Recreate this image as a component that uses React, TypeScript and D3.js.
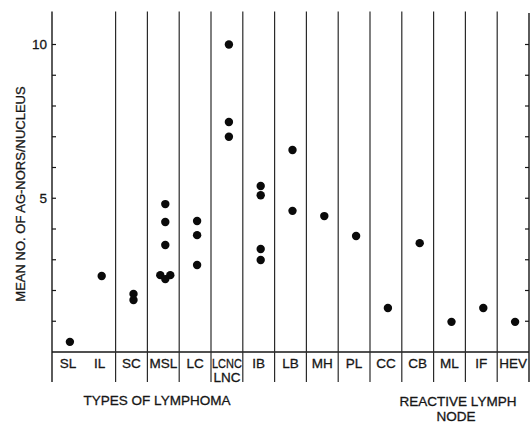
import React, { useEffect, useRef } from 'react';
import * as d3 from 'd3';

// categories along the bottom (SL and IL share one cell)
const categories = ['SL', 'IL', 'SC', 'MSL', 'LC', 'LCNC\nLNC', 'IB', 'LB', 'MH', 'PL', 'CC', 'CB', 'ML', 'IF', 'HEV'];
const noDividerAfter = ['SL'];

// mean number of Ag-NORs per nucleus, one entry per case
const pointCats = [
  'SL', 'IL', 'SC', 'SC',
  'MSL', 'MSL', 'MSL', 'MSL', 'MSL', 'MSL',
  'LC', 'LC', 'LC',
  'LCNC\nLNC', 'LCNC\nLNC', 'LCNC\nLNC',
  'IB', 'IB', 'IB', 'IB',
  'LB', 'LB', 'MH', 'PL', 'CC', 'CB', 'ML', 'IF', 'HEV',
];
const pointValues = [
  0.33, 2.47, 1.89, 1.69,
  4.81, 4.23, 3.48, 2.5, 2.5, 2.37,
  4.26, 3.8, 2.83,
  10.0, 7.48, 7.0,
  5.4, 5.1, 3.35, 2.99,
  6.57, 4.59, 4.42, 3.77, 1.43, 3.54, 0.98, 1.43, 0.98,
];

const yTicks = [1, 2, 3, 4, 5, 6, 7, 8, 9, 10];
const yTickLabels = [5, 10];

const W = 531, H = 423;
const FONT = '"Liberation Sans", Arial, Helvetica, sans-serif';
const INK = '#161616';

// scanned print looks a bit heavier than the plain font
const ink = (sel: any) => sel
  .attr('font-family', FONT).attr('fill', INK)
  .attr('stroke', INK).attr('stroke-width', 0.3);

const draw = (el: SVGSVGElement) => {
  const svg = d3.select(el);
  svg.selectAll('*').remove();

  const left = 52, right = 529, top = 11.5, base = 352, bottom = 382;

  const x = d3.scaleBand<string>().domain(categories).range([left, right]).padding(0);
  const y = d3.scaleLinear().domain([0, 10]).range([base, 44.5]);

  const g = svg.append('g');

  // outer axes
  g.append('line').attr('x1', left).attr('x2', left).attr('y1', top).attr('y2', bottom)
    .attr('stroke', INK).attr('stroke-width', 1.4);
  g.append('line').attr('x1', right).attr('x2', right).attr('y1', top + 1.5).attr('y2', bottom)
    .attr('stroke', INK).attr('stroke-width', 1.4);
  g.append('line').attr('x1', left).attr('x2', right).attr('y1', base).attr('y2', base)
    .attr('stroke', INK).attr('stroke-width', 1.4);

  // dividers between categories
  const dividers = categories.slice(0, -1).filter(c => !noDividerAfter.includes(c));
  g.selectAll('line.div').data(dividers).enter().append('line')
    .attr('class', 'div')
    .attr('x1', d => (x(d) as number) + x.bandwidth())
    .attr('x2', d => (x(d) as number) + x.bandwidth())
    .attr('y1', top).attr('y2', bottom)
    .attr('stroke', '#2a2a2a').attr('stroke-width', 1.2);

  // ticks: inward on both sides
  g.selectAll('line.lt').data(yTicks).enter().append('line')
    .attr('x1', left).attr('x2', left + 4).attr('y1', d => y(d)).attr('y2', d => y(d))
    .attr('stroke', INK).attr('stroke-width', 1.2);
  g.selectAll('line.rt').data(yTicks).enter().append('line')
    .attr('x1', right - 4).attr('x2', right).attr('y1', d => y(d)).attr('y2', d => y(d))
    .attr('stroke', INK).attr('stroke-width', 1.2);

  g.selectAll('text.yl').data(yTickLabels).enter().append('text')
    .attr('x', left - 5).attr('y', d => y(d)).attr('dy', '0.35em')
    .attr('text-anchor', 'end').attr('font-size', 13.5)
    .call(ink).text(d => d);

  // category labels
  const lab = g.selectAll('text.cat').data(categories).enter().append('text')
    .attr('x', d => (x(d) as number) + x.bandwidth() / 2)
    .attr('y', 368)
    .attr('text-anchor', 'middle').attr('font-size', 13.5)
    .call(ink);
  lab.each(function (d) {
    const parts = d.split('\n');
    const t = d3.select(this);
    parts.forEach((p, i) => {
      const ts = t.append('tspan').attr('x', (x(d) as number) + x.bandwidth() / 2)
        .attr('y', 368 + i * 14).text(p);
      const len = (ts.node() as SVGTSpanElement).getComputedTextLength();
      if (len > x.bandwidth() - 2) {
        ts.attr('textLength', x.bandwidth() - 2).attr('lengthAdjust', 'spacingAndGlyphs');
      }
    });
  });

  // spread points of nearly equal value inside one category
  const pts = pointValues.map((v, i) => ({ cat: pointCats[i], v, dx: 0 }));
  d3.groups(pts, p => p.cat).forEach(([, arr]) => {
    const used = new Set<number>();
    arr.forEach((p, i) => {
      if (used.has(i)) return;
      const cl = arr.filter(q => Math.abs(q.v - p.v) < 0.15);
      if (cl.length > 2) {
        const pattern = [-5, 5, 0];
        cl.sort((a, b) => b.v - a.v).forEach((q, k) => { q.dx = pattern[k % 3]; });
      }
      cl.forEach(q => used.add(arr.indexOf(q)));
    });
  });

  g.selectAll('circle.pt').data(pts).enter().append('circle')
    .attr('cx', d => (x(d.cat) as number) + x.bandwidth() / 2 + 2 + d.dx)
    .attr('cy', d => y(d.v))
    .attr('r', 4.2)
    .attr('fill', '#0a0a0a');

  // titles
  g.append('text')
    .attr('transform', `translate(20,194) rotate(-90)`)
    .attr('text-anchor', 'middle').attr('dy', '0.35em')
    .attr('font-size', 13).call(ink)
    .text('MEAN NO. OF AG-NORS/NUCLEUS');

  g.append('text').attr('x', 157).attr('y', 405)
    .attr('text-anchor', 'middle').attr('font-size', 13.5).call(ink)
    .text('TYPES OF LYMPHOMA');
  g.append('text').attr('x', 458).attr('y', 406)
    .attr('text-anchor', 'middle').attr('font-size', 13.5).call(ink)
    .text('REACTIVE LYMPH');
  g.append('text').attr('x', 456).attr('y', 421)
    .attr('text-anchor', 'middle').attr('font-size', 13.5).call(ink)
    .text('NODE');
};

const App = () => {
  const ref = useRef<SVGSVGElement>(null);
  useEffect(() => {
    if (ref.current) draw(ref.current);
  }, []);
  return (
    <svg ref={ref} width={W} height={H}
      style={{ position: 'absolute', left: 0, top: 0, background: '#fff' }} />
  );
};

export default App;
